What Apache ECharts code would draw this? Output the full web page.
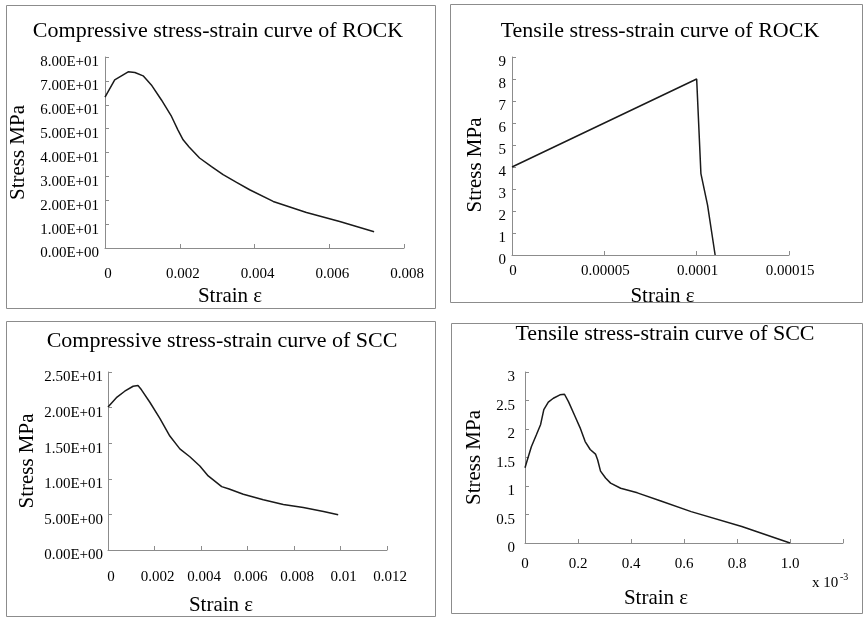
<!DOCTYPE html>
<html><head><meta charset="utf-8">
<script src="https://cdn.jsdelivr.net/npm/echarts@6/dist/echarts.min.js"></script>
<style>html,body{margin:0;padding:0;background:#fff}#c{width:864px;height:617px}</style>
</head><body><div id="c"></div>
<script>
// ---- data ----
const chartTitles = [
  'Compressive stress-strain curve of ROCK',
  'Tensile stress-strain curve of ROCK',
  'Compressive stress-strain curve of SCC',
  'Tensile stress-strain curve of SCC'
];
const yName = 'Stress MPa';
const xName = 'Strain \u03b5';
const scaleNote = 'x 10';
const scaleNoteExp = '-3';

const rockCompStrain = [0, 0.00026, 0.00062, 0.0008, 0.00102, 0.00124, 0.00151, 0.00178, 0.00195, 0.00209, 0.00225, 0.00253, 0.00285, 0.00316, 0.00352, 0.00387, 0.0045, 0.00539, 0.00628, 0.0072];
const rockCompStress = [63.2, 70.4, 73.8, 73.5, 72.1, 68.3, 62.0, 55.1, 49.5, 45.3, 42.3, 37.7, 34.1, 30.7, 27.5, 24.4, 19.5, 14.9, 11.1, 6.8];

const rockTensStrain = [0, 0.0001, 0.0001023, 0.0001059, 0.00011];
const rockTensStress = [4, 8, 3.7, 2.27, 0];

const sccCompStrain = [0, 0.00036, 0.00072, 0.00108, 0.00129, 0.00144, 0.0018, 0.00223, 0.00266, 0.00309, 0.00352, 0.00395, 0.00431, 0.00489, 0.00521, 0.00582, 0.00668, 0.00754, 0.0084, 0.00927, 0.0099];
const sccCompStress = [20.1, 21.4, 22.3, 23.0, 23.1, 22.5, 20.75, 18.5, 16.0, 14.2, 13.1, 11.8, 10.4, 8.9, 8.56, 7.84, 7.07, 6.40, 5.96, 5.42, 4.96];

// strain in units of 10^-3
const sccTensStrain = [0, 0.011, 0.024, 0.043, 0.059, 0.071, 0.088, 0.107, 0.132, 0.149, 0.164, 0.189, 0.208, 0.227, 0.246, 0.266, 0.274, 0.285, 0.304, 0.323, 0.361, 0.424, 0.51, 0.627, 0.818, 1.0];
const sccTensStress = [1.32, 1.49, 1.69, 1.90, 2.08, 2.34, 2.47, 2.54, 2.60, 2.61, 2.48, 2.22, 2.02, 1.78, 1.64, 1.56, 1.46, 1.26, 1.14, 1.05, 0.96, 0.88, 0.74, 0.55, 0.29, 0];

// ---- helpers ----
const serif = '"Liberation Serif","Times New Roman",serif';
const axisColor = '#8c8c8c';
const pairs = (xs, ys) => xs.map((x, i) => [x, ys[i]]);
function sci(v) {
  const p = v.toExponential(2).split('e');
  const sign = p[1][0];
  const d = p[1].slice(1).padStart(2, '0');
  return p[0] + 'E' + sign + d;
}
const plain = v => (v === 0 ? '0' : String(parseFloat(v.toFixed(6))));

const grids = [
  {left: 105, top: 57, width: 299, height: 191},
  {left: 512, top: 57, width: 277, height: 198},
  {left: 108, top: 372, width: 279, height: 185},
  {left: 525, top: 372, width: 318, height: 171}
];

function xAxis(i, min, max, interval, fmt, margin, gap, pad, lpad) {
  return {
    gridIndex: i, type: 'value', min, max, interval,
    axisLine: {show: true, lineStyle: {color: axisColor, width: 1}},
    axisTick: {show: true, inside: true, length: 4, lineStyle: {color: axisColor}},
    splitLine: {show: false},
    axisLabel: {color: '#000', fontFamily: serif, fontSize: 15, margin, padding: lpad, formatter: fmt, showMaxLabel: true, showMinLabel: true},
    name: xName, nameLocation: 'middle', nameGap: gap,
    nameTextStyle: {color: '#000', fontFamily: serif, fontSize: 21, padding: pad}
  };
}
function yAxis(i, min, max, interval, fmt, margin, gap, pad) {
  return {
    gridIndex: i, type: 'value', min, max, interval,
    axisLine: {show: true, lineStyle: {color: axisColor, width: 1}},
    axisTick: {show: true, inside: true, length: 4, lineStyle: {color: axisColor}},
    splitLine: {show: false},
    axisLabel: {color: '#000', fontFamily: serif, fontSize: 15, margin, verticalAlign: 'top', lineHeight: 11, formatter: fmt, showMaxLabel: true, showMinLabel: true},
    name: yName, nameLocation: 'middle', nameGap: gap,
    nameTextStyle: {color: '#000', fontFamily: serif, fontSize: 21, padding: pad}
  };
}

const titlePos = [[218, 20], [660, 20], [222, 330], [665, 323]];
const borders = [[6, 5, 429, 303], [450, 4, 412, 298], [6, 321, 429, 295], [451, 323, 411, 290]];

const lineStyle = {color: '#1a1a1a', width: 1.5};
const option = {
  animation: false,
  backgroundColor: '#fff',
  title: chartTitles.map((t, i) => ({
    text: t, left: titlePos[i][0], top: titlePos[i][1], textAlign: 'center', padding: 0,
    textStyle: {fontFamily: serif, fontSize: 22, fontWeight: 'normal', color: '#000'}
  })),
  grid: grids,
  xAxis: [
    xAxis(0, 0, 0.008, 0.002, plain, 19, 38, [0, 49, 0, 0], [0, 0, 0, 6]),
    xAxis(1, 0, 0.00015, 0.00005, plain, 9, 31, [0, 0, 0, 24], [0, 0, 0, 2]),
    xAxis(2, 0, 0.012, 0.002, plain, 20, 45, [0, 53, 0, 0], [0, 0, 0, 6]),
    xAxis(3, 0, 1.2, 0.2, v => (v === 0 ? '0' : (v > 1.1 ? '' : v.toFixed(1))), 14, 45, [0, 56, 0, 0], 0)
  ],
  yAxis: [
    yAxis(0, 0, 80, 10, sci, 6, 76, 0),
    yAxis(1, 0, 9, 1, plain, 6, 26, [0, 18, 0, 0]),
    yAxis(2, 0, 25, 5, sci, 5, 70, 0),
    yAxis(3, 0, 3, 0.5, v => String(v), 10, 40, 0)
  ],
  graphic: borders.map(b => ({
    type: 'rect', silent: true,
    shape: {x: b[0] + 0.5, y: b[1] + 0.5, width: b[2], height: b[3]},
    style: {fill: 'none', stroke: axisColor, lineWidth: 1}
  })).concat([
    {type: 'text', left: 812, top: 576, style: {text: scaleNote, font: '15px ' + serif, fill: '#000'}},
    {type: 'text', left: 840, top: 572, style: {text: scaleNoteExp, font: '10px ' + serif, fill: '#000'}}
  ]),
  series: [
    {type: 'line', xAxisIndex: 0, yAxisIndex: 0, data: pairs(rockCompStrain, rockCompStress), showSymbol: false, lineStyle},
    {type: 'line', xAxisIndex: 1, yAxisIndex: 1, data: pairs(rockTensStrain, rockTensStress), showSymbol: false, lineStyle},
    {type: 'line', xAxisIndex: 2, yAxisIndex: 2, data: pairs(sccCompStrain, sccCompStress), showSymbol: false, lineStyle},
    {type: 'line', xAxisIndex: 3, yAxisIndex: 3, data: pairs(sccTensStrain, sccTensStress), showSymbol: false, lineStyle}
  ]
};
const chart = echarts.init(document.getElementById('c'), null, {renderer: 'canvas'});
chart.setOption(option);
</script>
</body></html>
